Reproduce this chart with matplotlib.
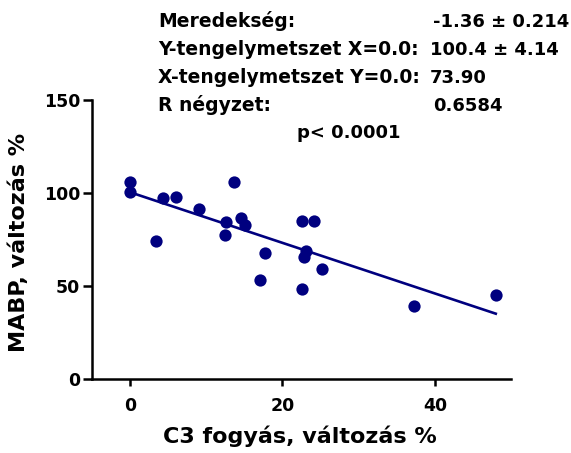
import numpy as np
import matplotlib
matplotlib.use('Agg')
import matplotlib.pyplot as plt

plt.rcParams['font.family'] = ['DejaVu Sans']
plt.rcParams['font.weight'] = 'bold'

# C3 fogyas (x) vs MABP (y)
c3_change = [0.0, 0.0, 4.3, 6.0, 3.4, 9.0, 13.7, 12.6, 12.5, 14.6, 15.1,
             17.7, 17.1, 22.6, 24.2, 23.1, 22.8, 25.2, 22.6, 37.3, 48.0]
mabp_change = [106.0, 100.4, 97.3, 97.7, 74.4, 91.4, 105.7, 84.6, 77.3, 86.4, 83.0,
               67.5, 53.4, 84.8, 85.1, 68.6, 65.8, 59.3, 48.5, 39.1, 45.3]

# regression results shown in the header
slope = -1.36
intercept = 100.4
stat_labels = ['Meredekség:', 'Y-tengelymetszet X=0.0:', 'X-tengelymetszet Y=0.0:', 'R négyzet:']
stat_values = ['-1.36 ± 0.214', '100.4 ± 4.14', '73.90', '0.6584']
p_text = 'p< 0.0001'

x_ticks = [0, 20, 40]
y_ticks = [0, 50, 100, 150]

W, H = 571, 453
fig = plt.figure(figsize=(W / 100, H / 100), dpi=100)
ax = fig.add_axes([92 / W, 1 - 379 / H, (511 - 92) / W, (379 - 100) / H])

navy = '#00007f'
ax.scatter(c3_change, mabp_change, s=78, color=navy, zorder=3, linewidths=0)
xs = np.array([min(c3_change), max(c3_change)])
ax.plot(xs, intercept + slope * xs, color=navy, lw=1.9, zorder=2)

ax.set_xlim(-5, 50)
ax.set_ylim(0, 150)
ax.set_xticks(x_ticks)
ax.set_yticks(y_ticks)
for s in ['top', 'right']:
    ax.spines[s].set_visible(False)
for s in ['left', 'bottom']:
    ax.spines[s].set_linewidth(1.8)
ax.tick_params(axis='x', width=1.8, length=5, labelsize=12.5, pad=8)
ax.tick_params(axis='y', width=1.8, length=6.5, labelsize=12.5, pad=2)
for lab in ax.get_xticklabels() + ax.get_yticklabels():
    lab.set_fontweight('bold')

fig.text(19 / W, 1 - 242 / H, 'MABP, változás %', rotation=90, ha='center', va='center',
         fontsize=16, fontweight='bold')
fig.text(300 / W, 1 - 443 / H, 'C3 fogyás, változás %', ha='center', va='baseline',
         fontsize=16, fontweight='bold')

# statistics block
baselines = [27, 55, 83, 111]
value_x = [433, 430, 430, 433]
for lab, val, b, vx in zip(stat_labels, stat_values, baselines, value_x):
    fig.text(158 / W, 1 - b / H, lab, ha='left', va='baseline', fontsize=13.5, fontweight='bold')
    fig.text(vx / W, 1 - b / H, val, ha='left', va='baseline', fontsize=13, fontweight='bold')
fig.text(297 / W, 1 - 138 / H, p_text, ha='left', va='baseline', fontsize=13, fontweight='bold')

fig.savefig('out.png', dpi=100)
